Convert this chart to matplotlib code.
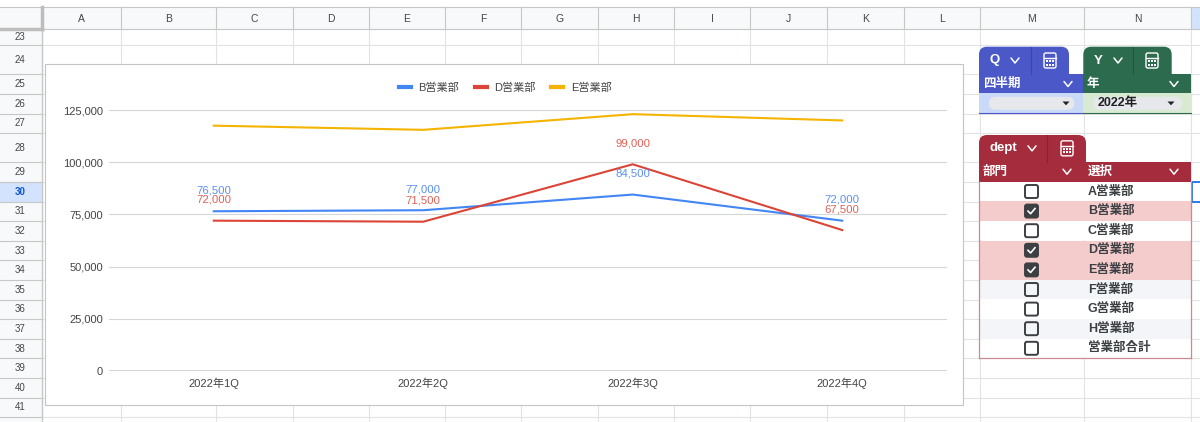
import matplotlib
matplotlib.use("Agg")
import matplotlib.pyplot as plt
from matplotlib.patches import Rectangle, FancyBboxPatch, Polygon
import numpy as np

# chart data
quarters = ["2022年1Q", "2022年2Q", "2022年3Q", "2022年4Q"]
series_names = ["B営業部", "D営業部", "E営業部"]
b_sales = [76500, 77000, 84500, 72000]
d_sales = [72000, 71500, 99000, 67500]
e_sales = [117500, 115500, 123000, 120000]
y_ticks = [0, 25000, 50000, 75000, 100000, 125000]

# sheet / slicer text
col_letters = ["A", "B", "C", "D", "E", "F", "G", "H", "I", "J", "K", "L", "M", "N", "O"]
row_numbers = list(range(23, 43))
dept_names = ["A営業部", "B営業部", "C営業部", "D営業部", "E営業部",
              "F営業部", "G営業部", "H営業部", "営業部合計"]
dept_checked = [False, True, False, True, True, False, False, False, False]

FONT = ["Liberation Sans", "Noto Sans CJK JP", "DejaVu Sans"]
plt.rcParams["font.family"] = FONT

W, H = 1200, 422
fig = plt.figure(figsize=(W / 100, H / 100), dpi=100)
bg = fig.add_axes([0, 0, 1, 1])
bg.set_xlim(0, W)
bg.set_ylim(H, 0)
bg.axis("off")

# ---- spreadsheet grid ----
col_edges = [42, 121, 216, 293, 369, 445, 521, 598, 674, 750, 827, 904, 980, 1084, 1191, 1290]
row_edges = [29.3, 45.3, 74, 94, 113.5, 133.3, 162.3]
while len(row_edges) < len(row_numbers) + 1:
    row_edges.append(row_edges[-1] + 19.6)

grid_c = "#e2e3e3"
head_bg = "#f8f9fa"
head_line = "#c7c7c7"

for x in col_edges:
    bg.plot([x, x], [29.3, H], color=grid_c, lw=0.8, zorder=1)
for y in row_edges:
    bg.plot([42, W], [y, y], color=grid_c, lw=0.8, zorder=1)

# column header
bg.add_patch(Rectangle((0, 7), W, 22.3, fc=head_bg, ec="none", zorder=2))
bg.add_patch(Rectangle((1191, 7), 20, 22.3, fc="#d3e3fd", ec="none", zorder=2))
for i, x in enumerate(col_edges[:-1]):
    bg.plot([x, x], [7, 29.3], color=head_line, lw=0.8, zorder=3)
    xm = (x + min(col_edges[i + 1], W + 60)) / 2
    if xm < W:
        bg.text(xm, 18.5, col_letters[i], ha="center", va="center",
                fontsize=7.5, color="#444746", zorder=4)
bg.plot([0, W], [7, 7], color=head_line, lw=0.8, zorder=3)
bg.plot([0, W], [29.3, 29.3], color=head_line, lw=0.8, zorder=3)

# row header
bg.add_patch(Rectangle((0, 29.3), 42, H, fc=head_bg, ec="none", zorder=2))
bg.add_patch(Rectangle((0, row_edges[7]), 42, row_edges[8] - row_edges[7],
                       fc="#d3e3fd", ec="none", zorder=2))
for i, n in enumerate(row_numbers):
    y0, y1 = row_edges[i], row_edges[i + 1]
    bg.plot([0, 42], [y1, y1], color=head_line, lw=0.8, zorder=3)
    if (y0 + y1) / 2 < H - 2:
        sel = n == 30
        bg.text(20, (y0 + y1) / 2, str(n), ha="center", va="center", fontsize=7,
                color="#0b57d0" if sel else "#444746",
                fontweight="bold" if sel else "normal", zorder=4)
bg.plot([42, 42], [7, H], color=head_line, lw=1.0, zorder=3)
bg.plot([0, 42], [29.3, 29.3], color="#bdbdbd", lw=2.5, zorder=3)
bg.plot([42, 42], [7, 29.3], color="#bdbdbd", lw=2.5, zorder=3)

# selected cell O30
bg.add_patch(Rectangle((1191.5, row_edges[7]), 30, row_edges[8] - row_edges[7],
                       fc="none", ec="#1a73e8", lw=1.3, zorder=6))

# chart frame
bg.add_patch(Rectangle((45, 64.3), 918, 341, fc="white", ec="#c4c4c4", lw=0.8, zorder=5))

# ---- slicers ----
def chevron(x, y, c="white", w=4, h=2.5):
    bg.plot([x - w, x, x + w], [y - h, y + h, y - h], color=c, lw=1.1,
            solid_capstyle="round", zorder=12)


def calc_icon(x, y, c="white"):
    bg.add_patch(FancyBboxPatch((x - 6, y - 7.5), 12, 15,
                                boxstyle="round,pad=0,rounding_size=1.8",
                                fc="none", ec=c, lw=1.0, zorder=12))
    bg.plot([x - 6, x + 6], [y - 2.8, y - 2.8], color=c, lw=1.0, zorder=12)
    for gx in (-3.2, 0, 3.2):
        for gy in (0.6, 4.0):
            bg.add_patch(Rectangle((x + gx - 1, y + gy - 1), 2, 2,
                                   fc=c, ec="none", zorder=12))


def tab(x0, x1, y0, y1, color, label, lab_x, chev_x, div_x, calc_x):
    bg.add_patch(FancyBboxPatch((x0, y0), x1 - x0, y1 - y0 + 8,
                                boxstyle="round,pad=0,rounding_size=8",
                                fc=color, ec="none", zorder=10))
    bg.plot([div_x, div_x], [y0, y1], color="#00000030", lw=0.8, zorder=11)
    ym = (y0 + y1) / 2
    bg.text(lab_x, ym, label, ha="left", va="center", fontsize=9.5,
            fontweight="bold", color="white", zorder=12)
    chevron(chev_x, ym)
    calc_icon(calc_x, ym)


def dropdown(x0, x1, y0, y1, cell_bg, line_c, text=None, text_x=None, arrow_x=None):
    bg.add_patch(Rectangle((x0, y0), x1 - x0, y1 - y0, fc=cell_bg, ec="none", zorder=10))
    bg.plot([x0, x1], [y1, y1], color=line_c, lw=0.8, zorder=11)
    bg.add_patch(FancyBboxPatch((x0 + 10, y0 + 3.5), x1 - x0 - 19, y1 - y0 - 7,
                                boxstyle="round,pad=0,rounding_size=6.5",
                                fc="#e6e8ec", ec="none", zorder=11))
    if text:
        bg.text(text_x, (y0 + y1) / 2, text, ha="left", va="center",
                fontsize=9, fontweight="bold", color="#202124", zorder=12)
    ym = (y0 + y1) / 2
    bg.add_patch(Polygon([[arrow_x - 3.5, ym - 1.8], [arrow_x + 3.5, ym - 1.8],
                          [arrow_x, ym + 2]], fc="#202124", ec="none", zorder=12))


q_blue = "#4b58c8"
y_green = "#2d6b4e"
d_red = "#a52c3c"

# Q slicer
tab(979, 1069, 46.7, 74.3, q_blue, "Q", 990, 1015, 1031, 1050)
bg.add_patch(Rectangle((979, 74.3), 104.3, 19, fc=q_blue, ec="none", zorder=10))
bg.text(983, 84, "四半期", ha="left", va="center", fontsize=9, fontweight="bold",
        color="white", zorder=12)
chevron(1068, 84)
dropdown(979, 1083.3, 93.3, 113.3, "#c9daf8", q_blue, arrow_x=1066)

# Y slicer
tab(1083.3, 1171.7, 46.7, 74.3, y_green, "Y", 1094, 1118, 1133, 1152)
bg.add_patch(Rectangle((1083.3, 74.3), 107.7, 19, fc=y_green, ec="none", zorder=10))
bg.text(1087, 84, "年", ha="left", va="center", fontsize=9, fontweight="bold",
        color="white", zorder=12)
chevron(1174, 84)
dropdown(1083.3, 1191, 93.3, 113.3, "#d9ead3", y_green, text="2022年", text_x=1098,
         arrow_x=1171)

# dept slicer
tab(979, 1086, 135, 161.7, d_red, "dept", 989, 1032, 1047, 1067)
bg.add_patch(Rectangle((979, 161.7), 212, 20, fc=d_red, ec="none", zorder=10))
bg.text(983, 171.7, "部門", ha="left", va="center", fontsize=9, fontweight="bold",
        color="white", zorder=12)
chevron(1067, 171.7)
bg.text(1088, 171.7, "選択", ha="left", va="center", fontsize=9, fontweight="bold",
        color="white", zorder=12)
chevron(1174, 171.7)

row_h = 19.6
top = 181.7
for i, (name, chk) in enumerate(zip(dept_names, dept_checked)):
    y0 = top + i * row_h
    if chk:
        fc = "#f4cccc"
    elif i % 2 == 1:
        fc = "#f3f5f8"
    else:
        fc = "white"
    bg.add_patch(Rectangle((979, y0), 212, row_h, fc=fc, ec="none", zorder=10))
    ym = y0 + row_h / 2
    bg.add_patch(FancyBboxPatch((1025, ym - 6.5), 13, 13,
                                boxstyle="round,pad=0,rounding_size=2",
                                fc="#3c4043" if chk else "none", ec="#3c4043",
                                lw=1.4, zorder=12))
    if chk:
        bg.plot([1028, 1030.6, 1035], [ym, ym + 2.6, ym - 2.6], color="white",
                lw=1.2, zorder=13)
    bg.text(1088, ym, name, ha="left", va="center", fontsize=9,
            fontweight="bold", color="#3c4043", zorder=12)
bottom = top + len(dept_names) * row_h
bg.plot([979, 979], [top, bottom], color="#c98a91", lw=0.9, zorder=13)
bg.plot([1191, 1191], [top, bottom], color="#c98a91", lw=0.9, zorder=13)
bg.plot([979, 1191], [bottom, bottom], color="#c98a91", lw=0.9, zorder=13)

# ---- line chart ----
px_l, px_r, px_t, px_b = 109, 947, 110, 371
ax = fig.add_axes([px_l / W, (H - px_b) / H, (px_r - px_l) / W, (px_b - px_t) / H])
ax.set_zorder(20)
ax.patch.set_alpha(0)

colors = ["#4285f4", "#db4437", "#f4b400"]
x = np.arange(len(quarters))
all_series = [b_sales, d_sales, e_sales]
for vals, name, c in zip(all_series, series_names, colors):
    ax.plot(x, vals, color=c, lw=1.5, label=name, clip_on=False)

label_colors = ["#5b8ff0", "#e06055"]
for vals, c in zip(all_series[:2], label_colors):
    for xi, v in zip(x, vals):
        ax.annotate(f"{v:,}", (xi, v), xytext=(0, 15), textcoords="offset points",
                    ha="center", va="center", fontsize=8.2, color=c)

ax.set_xlim(-0.5, len(quarters) - 0.5)
ax.set_ylim(0, 125000)
ax.set_yticks(y_ticks)
ax.set_yticklabels([f"{t:,}" for t in y_ticks])
ax.set_xticks(x)
ax.set_xticklabels(quarters)
ax.tick_params(axis="both", length=0, labelsize=8, labelcolor="#444444")
ax.tick_params(axis="y", pad=4.5)
ax.tick_params(axis="x", pad=5)
ax.grid(axis="y", color="#d6d6d6", lw=0.8)
ax.set_axisbelow(True)
for s in ax.spines.values():
    s.set_visible(False)
ax.axhline(0, color="#333333", lw=1.0)

leg = ax.legend(loc="center", bbox_to_anchor=(0.473, 1.084), ncol=3, frameon=False,
                fontsize=8, handlelength=1.08, handletextpad=0.69, columnspacing=1.4)
for ln in leg.get_lines():
    ln.set_linewidth(3)
for t in leg.get_texts():
    t.set_color("#444444")

fig.savefig("out.png", dpi=100)
